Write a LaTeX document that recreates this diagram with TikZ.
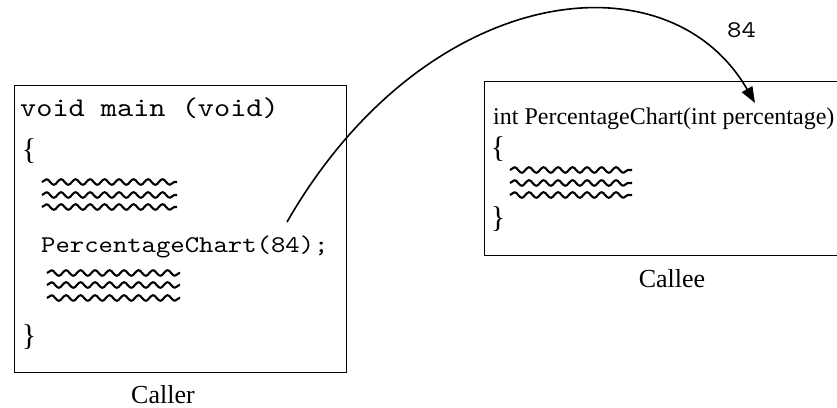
\documentclass[tikz,border=0pt]{standalone}
\usepackage{fontspec}
\setmainfont{Liberation Serif}
\setmonofont{lmmono10-regular.otf}[FakeStretch=1.14]
\usetikzlibrary{decorations.pathmorphing,arrows.meta}

\begin{document}
\begin{tikzpicture}[x=1pt,y=1pt,
  frame/.style={draw, line width=1.3pt, inner sep=0pt, anchor=south west},
  codebig/.style={inner sep=0pt, anchor=base west, font=\fontsize{27}{30}\selectfont\ttfamily},
  code/.style={inner sep=0pt, anchor=base west, font=\fontsize{24}{28}\selectfont\ttfamily},
  serifcode/.style={inner sep=0pt, anchor=base west, font=\fontsize{24}{28}\selectfont},
  brace/.style={inner sep=0pt, anchor=center, font=\fontsize{30}{34}\selectfont},
  caption/.style={inner sep=0pt, anchor=base, font=\fontsize{26}{30}\selectfont},
  squiggle/.style={line width=2.1pt, line join=round, decorate,
    decoration={snake, segment length=14.5pt, amplitude=2.8pt}},
  call/.style={line width=1.6pt, -{Triangle[length=16pt,width=12pt]}},
]
\useasboundingbox (0,0) rectangle (837,407);

% caller frame and its code
\node[frame, minimum width=332pt, minimum height=287pt] (caller) at (14,34) {};
\node[codebig] (mainsig) at (20,290) {void main (void)};
\node[brace] (mainopen) at (29,256) {\{};
\draw[squiggle] (42,225) -- (177,225);
\draw[squiggle] (42,212) -- (177,212);
\draw[squiggle] (42,200) -- (177,200);
\node[code] (callstmt) at (41,154) {PercentageChart(84);};
\draw[squiggle] (47,134) -- (180,134);
\draw[squiggle] (47,122) -- (180,122);
\draw[squiggle] (47,109) -- (180,109);
\node[brace] (mainclose) at (29,70) {\}};
\node[caption] (callerlabel) at (163,4) {Caller};

% callee frame and its code
\node[frame, minimum width=360pt, minimum height=174pt] (callee) at (484,151) {};
\node[serifcode] (calleesig) at (493,282) {int PercentageChart(int percentage)};
\node[brace] (calleeopen) at (498,258) {\{};
\draw[squiggle] (510,237) -- (632,237);
\draw[squiggle] (510,224) -- (632,224);
\draw[squiggle] (510,212) -- (632,212);
\node[brace] (calleeclose) at (498,188) {\}};
\node[caption] (calleelabel) at (672,119) {Callee};

% the argument passed from caller to callee
\coordinate (argout) at (287,185);
\coordinate (argin) at (755,304);
\draw[call] (argout) .. controls (425,425) and (668,455) .. (argin);
\node[code] (argvalue) at (727,369) {84};
\end{tikzpicture}
\end{document}
